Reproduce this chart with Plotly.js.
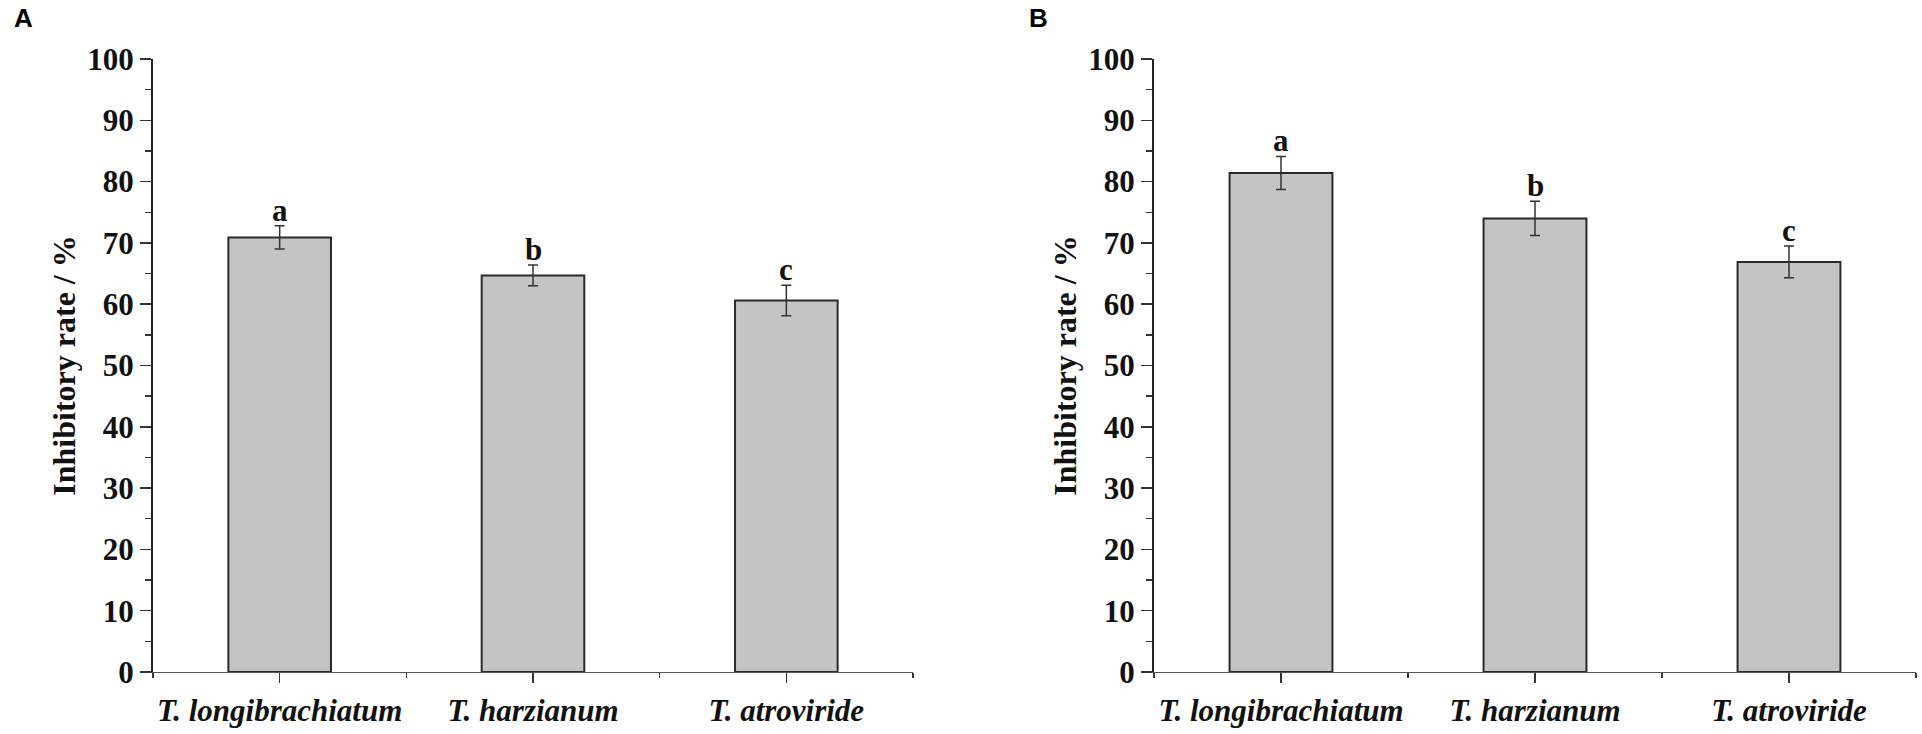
<!DOCTYPE html>
<html>
<head>
<meta charset="utf-8">
<script src="https://cdn.plot.ly/plotly-3.0.1.min.js"></script>
<style>html,body{margin:0;padding:0;background:#fff;}#chart{width:1922px;height:734px;}</style>
</head>
<body>
<div id="chart"></div>
<script>
const categories = ["T. longibrachiatum", "T. harzianum", "T. atroviride"];
const valuesA = [70.9, 64.7, 60.6];
const errorsA = [1.9, 1.7, 2.5];
const lettersA = ["a", "b", "c"];
const valuesB = [81.4, 74.0, 66.9];
const errorsB = [2.7, 2.8, 2.6];
const lettersB = ["a", "b", "c"];
const yTicks = [0, 10, 20, 30, 40, 50, 60, 70, 80, 90, 100];
const yTitle = "Inhibitory rate / %";
const panelLabels = ["A", "B"];

const idx = categories.map((_, i) => i);
const serif = "Liberation Serif, Times New Roman, serif";

function barTrace(vals, errs, xa, ya) {
  return {
    type: "bar", x: idx, y: vals, xaxis: xa, yaxis: ya, width: 0.405,
    marker: {color: "#c4c4c4", line: {color: "#2a2a2a", width: 2}},
    error_y: {type: "data", array: errs, visible: true, color: "#333", thickness: 1.5, width: 5},
    hoverinfo: "skip", showlegend: false
  };
}

function xAxis(domain, anchor) {
  return {
    domain: domain, anchor: anchor, range: [-0.5, 2.5], showgrid: false, zeroline: false,
    showline: true, linecolor: "#555", linewidth: 1.5,
    tickmode: "array", tickvals: idx, ticktext: categories,
    ticks: "outside", ticklen: 10, tickwidth: 1.5, tickcolor: "#333",
    tickfont: {family: serif, size: 31, weight: "bold", style: "italic", color: "#111"},
    minor: {tickvals: [-0.5, 0.5, 1.5, 2.5], ticks: "outside", ticklen: 5, tickwidth: 1.5, tickcolor: "#333"},
    fixedrange: true
  };
}

function yAxis(anchor) {
  return {
    domain: [0.0845, 0.9196], anchor: anchor, range: [0, 100], showgrid: false, zeroline: false,
    showline: true, linecolor: "#222", linewidth: 2,
    tickmode: "array", tickvals: yTicks,
    ticks: "outside", ticklen: 11, tickwidth: 1.5, tickcolor: "#333",
    tickfont: {family: serif, size: 31, weight: "bold", color: "#111"},
    minor: {dtick: 5, ticks: "outside", ticklen: 6, tickwidth: 1.5, tickcolor: "#333"},
    title: {text: yTitle, font: {family: serif, size: 32, weight: "bold", color: "#111"}, standoff: 2},
    fixedrange: true
  };
}

const data = [
  barTrace(valuesA, errorsA, "x", "y"),
  barTrace(valuesB, errorsB, "x2", "y2")
];

const annotations = [];
function addLetters(vals, errs, letters, xr, yr) {
  vals.forEach((v, i) => {
    annotations.push({
      x: idx[i], y: v + errs[i], xref: xr, yref: yr, text: letters[i], showarrow: false,
      yanchor: "bottom", yshift: -4,
      font: {family: serif, size: 31, weight: "bold", color: "#111"}
    });
  });
}
addLetters(valuesA, errorsA, lettersA, "x", "y");
addLetters(valuesB, errorsB, lettersB, "x2", "y2");

annotations.push({x: 23 / 1922, y: 1 - 18 / 734, xref: "paper", yref: "paper", text: panelLabels[0],
  showarrow: false, xanchor: "center", yanchor: "middle",
  font: {family: "Liberation Sans, Arial, sans-serif", size: 26, weight: "bold", color: "#000"}});
annotations.push({x: 1038 / 1922, y: 1 - 18 / 734, xref: "paper", yref: "paper", text: panelLabels[1],
  showarrow: false, xanchor: "center", yanchor: "middle",
  font: {family: "Liberation Sans, Arial, sans-serif", size: 26, weight: "bold", color: "#000"}});

const layout = {
  width: 1922, height: 734,
  margin: {l: 0, r: 0, t: 0, b: 0},
  paper_bgcolor: "#fff", plot_bgcolor: "#fff",
  xaxis: xAxis([153 / 1922, 913 / 1922], "y"),
  yaxis: yAxis("x"),
  xaxis2: xAxis([1154 / 1922, 1916 / 1922], "y2"),
  yaxis2: yAxis("x2"),
  annotations: annotations,
  showlegend: false
};

Plotly.newPlot("chart", data, layout, {displayModeBar: false, staticPlot: true});
</script>
</body>
</html>
